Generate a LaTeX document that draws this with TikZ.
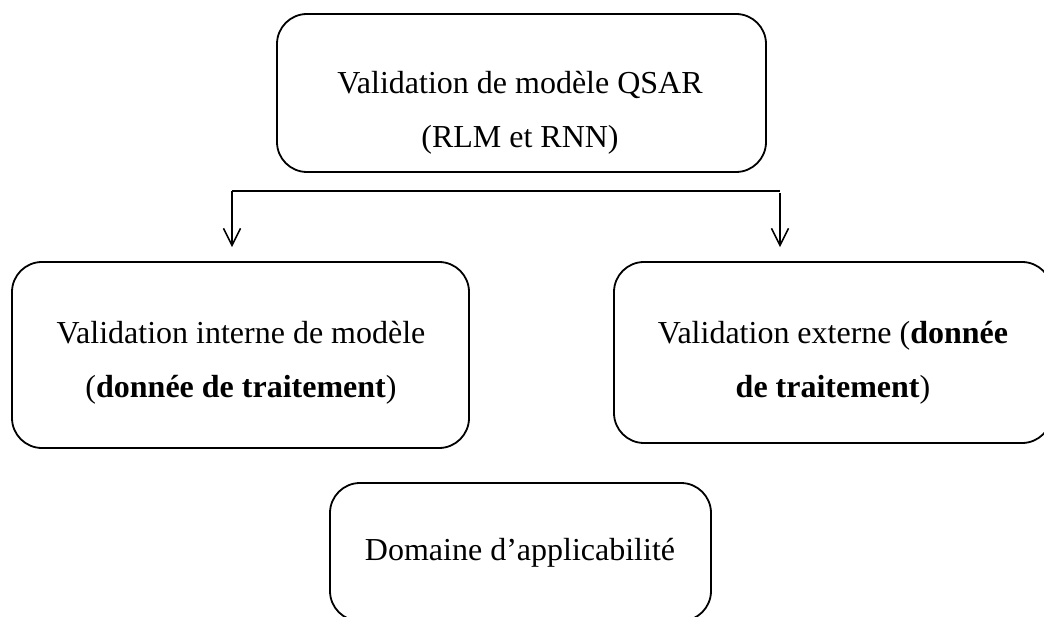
\documentclass[tikz,border=0pt]{standalone}
\usepackage{fontspec}
\setmainfont{Liberation Serif}
\usetikzlibrary{arrows.meta}
\begin{document}
\begin{tikzpicture}[x=1pt,y=1pt,
  box/.style={draw=black,line width=1.8pt,rounded corners=30pt,minimum width=#1,inner sep=0pt},
  txt/.style={align=center,inner sep=0pt,font=\fontsize{32}{54}\selectfont},
  conn/.style={line width=1.6pt},
  arr/.style={conn,-{Straight Barb[length=17pt,width=17pt,line width=1.6pt]}}]
\useasboundingbox (0,0) rectangle (1044,-617);
% boxes
\node[box=489pt,minimum height=158pt] (top) at (521.5,-93) {};
\node[box=457pt,minimum height=186pt] (left) at (240.5,-355) {};
\node[box=438pt,minimum height=181pt] (right) at (833,-352.5) {};
\node[box=381pt,minimum height=138pt] (bot) at (520.5,-552) {};
% texts
\node[txt] (ttop) at (520,-113) {Validation de modèle QSAR\\(RLM et RNN)};
\node[txt] (tleft) at (241,-363) {Validation interne de modèle\\(\textbf{donnée de traitement})};
\node[txt] (tright) at (833,-363) {Validation externe (\textbf{donnée}\\\textbf{de traitement})};
\node[txt] (tbot) at (520,-553) {Domaine d’applicabilité};
% connectors
\coordinate (jl) at (232,-191);
\coordinate (jr) at (780,-191);
\draw[conn] (jl) -- (jr);
\draw[arr,shorten >=14pt] (jl) -- (jl |- left.north);
\draw[arr,shorten >=14pt] ([yshift=-2pt]jr) -- (jr |- right.north);
\end{tikzpicture}
\end{document}
